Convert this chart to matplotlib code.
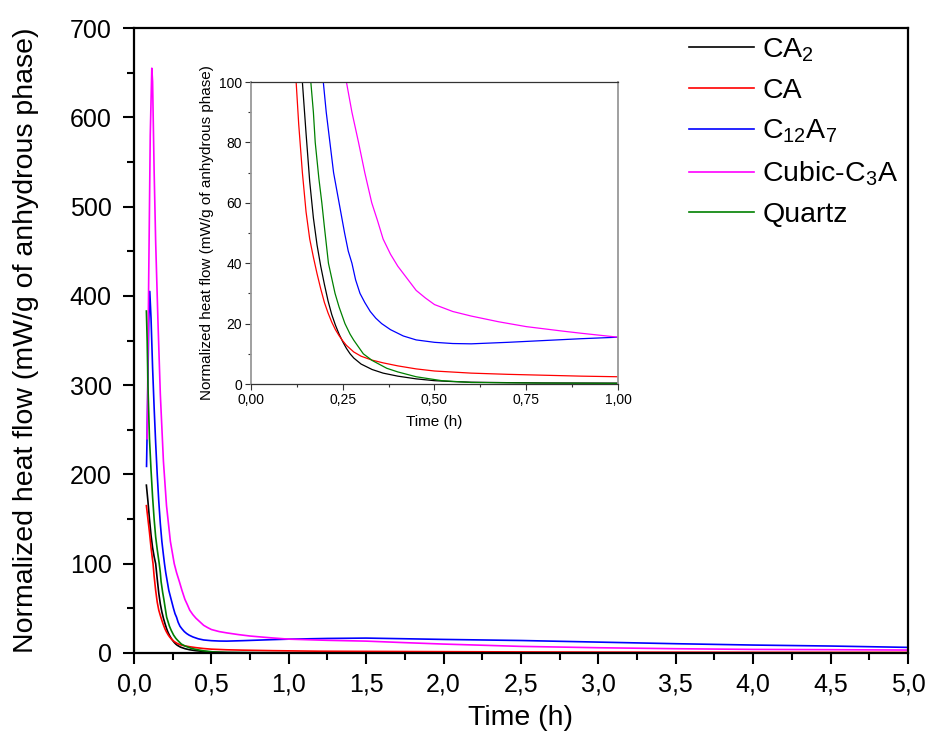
import matplotlib
matplotlib.use("Agg")
import matplotlib.pyplot as plt
from matplotlib.ticker import MultipleLocator, FuncFormatter

plt.rcParams['font.family'] = ['Liberation Sans', 'DejaVu Sans']
plt.rcParams['mathtext.fontset'] = 'custom'
plt.rcParams['mathtext.rm'] = 'Liberation Sans'
plt.rcParams['mathtext.it'] = 'Liberation Sans:italic'

# values (time in h, heat flow in mW/g)
t_ca2 = [0.08, 0.09, 0.10, 0.11, 0.12, 0.13, 0.14, 0.15, 0.16, 0.17, 0.18, 0.19,
         0.20, 0.21, 0.22, 0.23, 0.24, 0.25, 0.26, 0.27, 0.28, 0.30, 0.33, 0.36,
         0.40, 0.45, 0.50, 0.55, 0.60, 0.70, 0.80, 1.0, 2.0, 3.0, 5.0]
hf_ca2 = [188, 170, 150, 132, 118, 108, 100, 83, 67, 55, 46, 39,
          33, 27.5, 23, 19.5, 16.5, 14, 11.8, 10, 8.6, 6.6, 4.8, 3.6,
          2.6, 1.7, 1.1, 0.8, 0.6, 0.45, 0.35, 0.3, 0.2, 0.15, 0.1]

t_ca = [0.08, 0.09, 0.10, 0.11, 0.12, 0.123, 0.13, 0.14, 0.15, 0.16, 0.17, 0.18,
        0.19, 0.20, 0.21, 0.22, 0.23, 0.24, 0.25, 0.26, 0.28, 0.30, 0.33, 0.36,
        0.40, 0.45, 0.50, 0.60, 0.70, 0.80, 0.90, 1.0, 1.2, 1.5, 2.0, 2.5,
        3.0, 4.0, 5.0]
hf_ca = [165, 150, 135, 118, 104, 100, 86, 70, 57, 48, 42, 36.5,
         31.5, 27, 23.5, 20.5, 18, 16, 14.3, 12.8, 10.6, 9.2, 7.9, 7.0,
         6.0, 5.0, 4.3, 3.6, 3.2, 2.9, 2.6, 2.4, 2.0, 1.8, 1.5, 1.2,
         1.0, 0.8, 0.7]

t_c12a7 = [0.081, 0.088, 0.095, 0.102, 0.11, 0.12, 0.13, 0.14, 0.15, 0.16, 0.17, 0.18,
           0.19, 0.197, 0.205, 0.215, 0.225, 0.24, 0.255, 0.265, 0.275, 0.285, 0.297, 0.31,
           0.325, 0.34, 0.356, 0.38, 0.415, 0.45, 0.50, 0.55, 0.60, 0.70, 0.80, 0.90,
           1.0, 1.25, 1.5, 2.0, 2.5, 3.0, 3.5, 4.0, 4.5, 5.0]
hf_c12a7 = [209, 280, 370, 405, 375, 320, 275, 235, 200, 170, 145, 125,
            110, 100, 90, 80, 70, 60, 50, 44, 40, 34.5, 30, 27,
            24, 21.8, 20, 18, 15.9, 14.6, 13.8, 13.4, 13.3, 13.8, 14.4, 15.0,
            15.5, 16.3, 16.7, 15.2, 14.0, 12.2, 10.4, 8.9, 7.8, 6.3]

t_c3a = [0.085, 0.095, 0.105, 0.115, 0.12, 0.13, 0.14, 0.155, 0.17, 0.19, 0.21, 0.235,
         0.26, 0.275, 0.293, 0.31, 0.329, 0.345, 0.36, 0.38, 0.40, 0.425, 0.45, 0.475,
         0.50, 0.55, 0.60, 0.675, 0.75, 0.85, 0.90, 1.0, 1.25, 1.5, 1.75, 2.0,
         2.5, 3.0, 3.5, 4.0, 4.5, 5.0]
hf_c3a = [240, 420, 580, 655, 640, 540, 460, 370, 290, 215, 165, 125,
          100, 90, 80, 70, 60, 54, 48, 43, 39, 35, 31, 28.5,
          26.3, 24, 22.5, 20.6, 19, 17.5, 16.8, 15.5, 14.2, 13.3, 11.6, 10,
          7.4, 5.9, 4.8, 4.0, 3.7, 3.3]

t_quartz = [0.08, 0.085, 0.09, 0.10, 0.11, 0.12, 0.13, 0.14, 0.15, 0.163, 0.17, 0.175,
            0.185, 0.193, 0.20, 0.211, 0.22, 0.229, 0.24, 0.256, 0.27, 0.28, 0.306, 0.33,
            0.37, 0.40, 0.45, 0.52, 0.60, 0.78, 1.0, 2.0, 5.0]
hf_quartz = [383, 350, 300, 240, 205, 175, 150, 130, 116, 100, 90, 80,
             68, 60, 52, 40, 35, 30, 25.5, 20, 16.5, 14.5, 10, 7.8,
             5.2, 4.0, 2.4, 1.1, 0.5, 0.3, 0.2, 0.15, 0.1]

labels = [r'CA$_2$', 'CA', r'C$_{12}$A$_7$', r'Cubic-C$_3$A', 'Quartz']
colors = ['black', 'red', 'blue', 'magenta', 'green']
series = [(t_ca2, hf_ca2), (t_ca, hf_ca), (t_c12a7, hf_c12a7), (t_c3a, hf_c3a), (t_quartz, hf_quartz)]

comma = lambda fmt: FuncFormatter(lambda v, p: (fmt % v).replace('.', ','))

fig = plt.figure(figsize=(9.28, 7.46), dpi=100)
ax = fig.add_axes([134 / 928, 1 - 653 / 746, 774 / 928, 625 / 746])
for (t, hf), c, lab in zip(series, colors, labels):
    ax.plot(t, hf, color=c, lw=1.2, label=lab)

ax.set_xlim(0, 5)
ax.set_ylim(0, 700)
ax.xaxis.set_major_locator(MultipleLocator(0.5))
ax.xaxis.set_minor_locator(MultipleLocator(0.25))
ax.yaxis.set_major_locator(MultipleLocator(100))
ax.yaxis.set_minor_locator(MultipleLocator(50))
ax.xaxis.set_major_formatter(comma('%.1f'))
for s in ax.spines.values():
    s.set_linewidth(1.6)
ax.tick_params(which='both', direction='out', width=1.5, labelsize=18, top=False, right=False)
ax.tick_params(which='major', length=8)
ax.tick_params(which='minor', length=5)
ax.tick_params(axis='y', which='major', pad=8)
ax.tick_params(axis='x', which='major', pad=6)
ax.set_xlabel('Time (h)', fontsize=20.5, labelpad=6)
ax.set_ylabel('Normalized heat flow (mW/g of anhydrous phase)', fontsize=20.5, labelpad=22)

ax.legend(loc='upper left', bbox_to_anchor=(689 / 928, 1 - 36 / 746), bbox_transform=fig.transFigure,
          frameon=False, fontsize=20.5, handlelength=2.3, handletextpad=0.28, labelspacing=0.5,
          borderpad=0, borderaxespad=0)

# inset
axi = fig.add_axes([251 / 928, 1 - 384 / 746, 367 / 928, 302 / 746])
for (t, hf), c in zip(series, colors):
    axi.plot(t, hf, color=c, lw=0.9)
axi.set_xlim(0, 1)
axi.set_ylim(0, 100)
axi.xaxis.set_major_locator(MultipleLocator(0.25))
axi.xaxis.set_minor_locator(MultipleLocator(0.125))
axi.yaxis.set_major_locator(MultipleLocator(20))
axi.yaxis.set_minor_locator(MultipleLocator(10))
axi.xaxis.set_major_formatter(comma('%.2f'))
axi.spines['left'].set_color('#999999')
axi.spines['right'].set_color('#999999')
axi.spines['left'].set_linewidth(1.3)
axi.spines['right'].set_linewidth(1.3)
axi.spines['top'].set_color('#333333')
axi.spines['bottom'].set_color('#333333')
axi.spines['top'].set_linewidth(0.9)
axi.spines['bottom'].set_linewidth(0.9)
axi.tick_params(which='both', direction='out', width=0.8, color='#333333', labelsize=10,
                top=False, right=False, pad=2)
axi.tick_params(which='major', length=4.3)
axi.tick_params(which='minor', length=2.5)
axi.set_xlabel('Time (h)', fontsize=11, labelpad=6)
axi.set_ylabel('Normalized heat flow (mW/g of anhydrous phase)', fontsize=11, labelpad=3.5)

fig.savefig('out.png', dpi=100)
